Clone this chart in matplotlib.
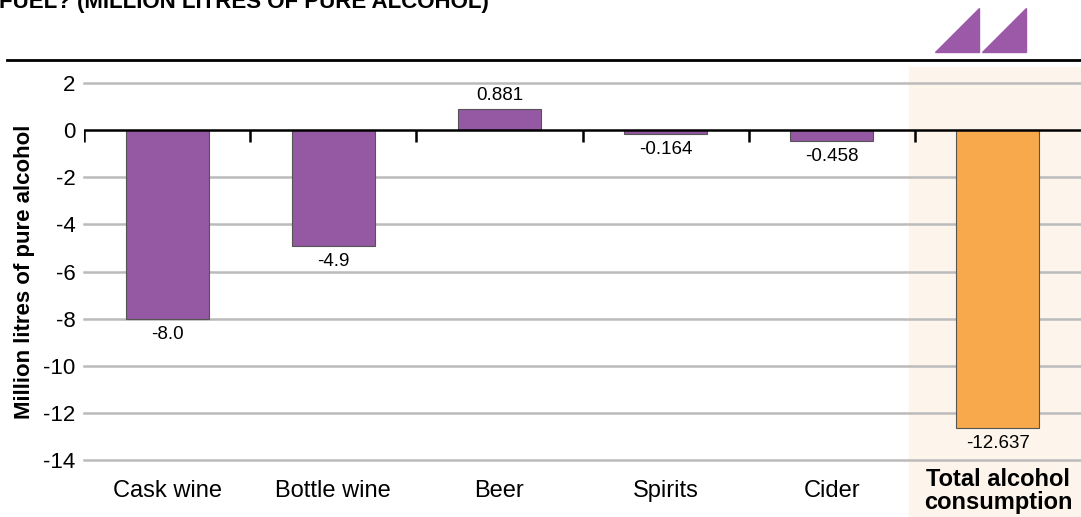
import matplotlib
matplotlib.use("Agg")
import matplotlib.pyplot as plt
from matplotlib.patches import Polygon, Rectangle

plt.rcParams["font.family"] = ["Liberation Sans", "DejaVu Sans"]

categories = ["Cask wine", "Bottle wine", "Beer", "Spirits", "Cider", "Total alcohol\nconsumption"]
values = [-8.0, -4.9, 0.881, -0.164, -0.458, -12.637]
value_labels = ["-8.0", "-4.9", "0.881", "-0.164", "-0.458", "-12.637"]
y_ticks = [2, 0, -2, -4, -6, -8, -10, -12, -14]

PURPLE = "#9558A3"
ORANGE = "#F7A94B"
HIGHLIGHT = "#FDF5EC"

W, H = 1081, 517
fig = plt.figure(figsize=(W / 100, H / 100), dpi=100)

# highlight panel behind the total column
fig.patches.append(Rectangle((909 / W, 0), (W - 909) / W, 1 - 67 / H,
                             transform=fig.transFigure, color=HIGHLIGHT, zorder=-5))

# clipped title and rule at the top
fig.text(-0.001, 1 - 8 / H, "FUEL? (MILLION LITRES OF PURE ALCOHOL)",
         fontsize=16, fontweight="bold", va="baseline", ha="left")
fig.add_artist(plt.Line2D([7 / W, 1], [1 - 60 / H, 1 - 60 / H], color="black", lw=2,
                          transform=fig.transFigure))

# logo triangles
for x0 in (935, 982):
    fig.patches.append(Polygon([[x0 / W, 1 - 52 / H], [(x0 + 44) / W, 1 - 52 / H],
                                [(x0 + 44) / W, 1 - 8 / H]], closed=True,
                               transform=fig.transFigure, color="#9B59A8", zorder=2))

ax = fig.add_axes([84 / W, 1 - 460 / H, 1 - 84 / W, (460 - 83) / H])
ax.set_zorder(1)
ax.patch.set_alpha(0)
ax.set_xlim(-0.5, 5.5)
ax.set_ylim(-14, 2)

x = list(range(len(categories)))
colors = [PURPLE] * 5 + [ORANGE]
ax.bar(x, values, width=0.5, color=colors, edgecolor="#555555", linewidth=0.8, zorder=3)

for xi, v, lab in zip(x, values, value_labels):
    if v >= 0:
        ax.annotate(lab, (xi, v), xytext=(0, 4), textcoords="offset points",
                    ha="center", va="bottom", fontsize=13.5)
    else:
        ax.annotate(lab, (xi, v), xytext=(0, -5), textcoords="offset points",
                    ha="center", va="top", fontsize=13.5)

for yt in y_ticks:
    if yt == 0:
        continue
    ax.axhline(yt, color="#BBBBBB", lw=1.8, zorder=1, clip_on=False)
ax.axhline(0, color="black", lw=1.8, zorder=4)
ax.vlines([-0.5, 0.5, 1.5, 2.5, 3.5, 4.5], 0, -0.5, color="black", lw=1.8, zorder=4)

for s in ax.spines.values():
    s.set_visible(False)

ax.set_yticks(y_ticks)
ax.set_yticklabels([str(t) for t in y_ticks], fontsize=16)
ax.tick_params(axis="y", length=0, pad=6)

ax.set_xticks(x)
ax.set_xticklabels(categories, fontsize=17)
ax.tick_params(axis="x", length=0, pad=22)
for i, t in enumerate(ax.get_xticklabels()):
    t.set_va("center")
    t.set_linespacing(1.0)
    if i == len(categories) - 1:
        t.set_fontweight("bold")

ax.set_ylabel("Million litres of pure alcohol", fontsize=16, fontweight="bold", labelpad=6)

fig.savefig("out.png", dpi=100)
